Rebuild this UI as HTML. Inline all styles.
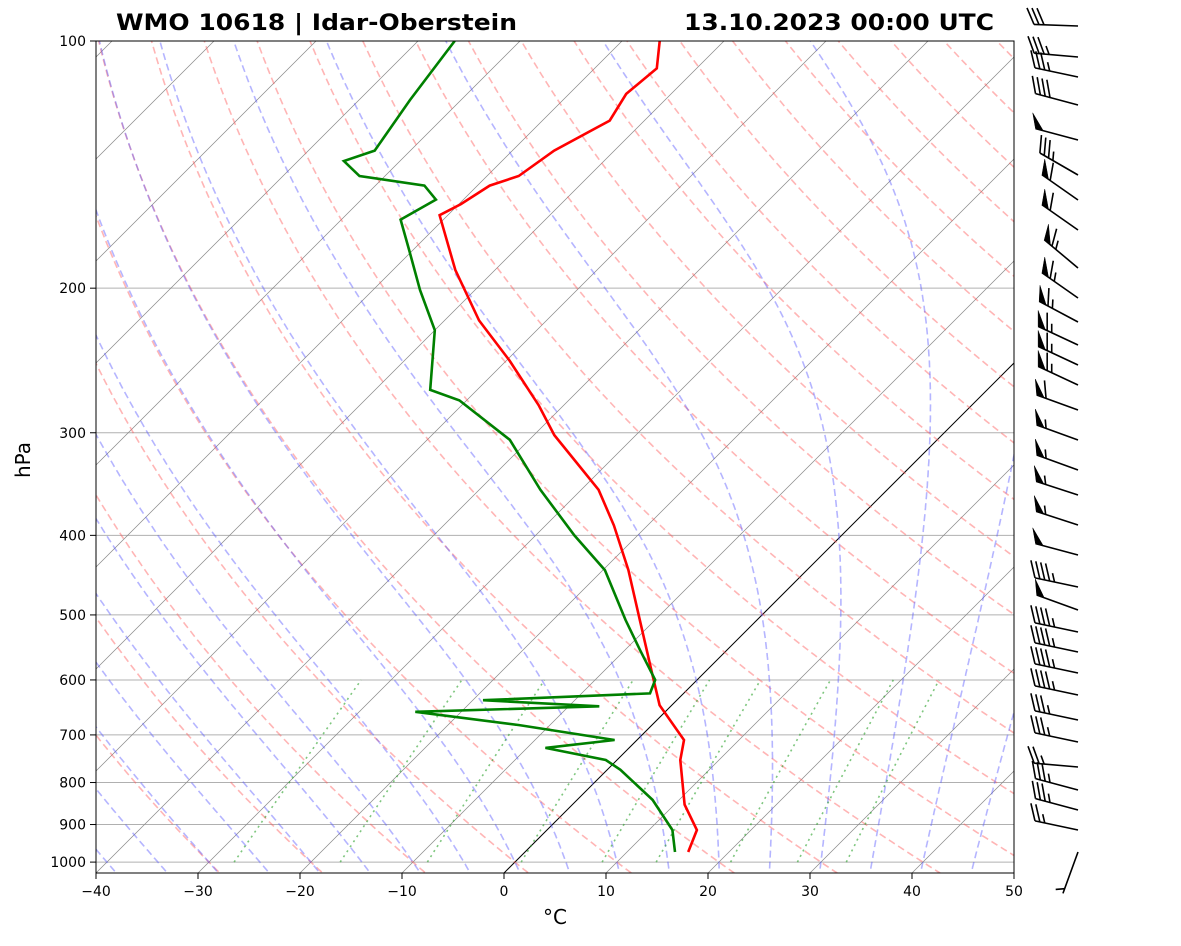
<!DOCTYPE html>
<html><head><meta charset="utf-8"><style>
body{margin:0;background:#fff;}
svg text{font-family:"DejaVu Sans","Liberation Sans",sans-serif;}
</style></head><body>
<svg id="c" width="1181" height="941" viewBox="0 0 1181 941" xmlns="http://www.w3.org/2000/svg">
<defs><clipPath id="clip"><rect x="96" y="41" width="918" height="832"/></clipPath></defs>
<rect x="0" y="0" width="1181" height="941" fill="#fff"/>
<g id="bg" clip-path="url(#clip)"></g>
<g id="prof" clip-path="url(#clip)"></g>
<rect x="96" y="41" width="918" height="832" fill="none" stroke="#000" stroke-width="1"/>
<g id="axes"></g>
<g id="barbs"></g>
<text x="116" y="30" font-size="22" font-weight="bold" textLength="401" lengthAdjust="spacingAndGlyphs">WMO 10618 | Idar-Oberstein</text>
<text x="684" y="30" font-size="22" font-weight="bold" textLength="310" lengthAdjust="spacingAndGlyphs">13.10.2023 00:00 UTC</text>
<text x="555" y="924" font-size="20" text-anchor="middle">°C</text>
<text x="30" y="460" font-size="20" text-anchor="middle" transform="rotate(-90 30 460)">hPa</text>
</svg>
<script>
// data
const tempPressure=[972,914,851,751,710,644,587,507,441,389,352,302,278,245,219,190,163,158,150,146,136,125,116,108,100];
const tempValues=[16.0,14.7,11.0,6.2,4.6,-1.2,-5.2,-11.5,-17.5,-23.3,-28.3,-38.0,-42.4,-49.7,-56.6,-63.9,-70.8,-69.8,-68.8,-66.9,-65.9,-63.4,-64.4,-63.9,-66.3];
const dewPressure=[972,914,840,772,751,726,710,681,656,646,635,623,600,552,507,441,400,352,306,274,266,225,201,180,165,156,150,146,140,136,118,100];
const dewValues=[14.7,12.3,7.4,1.3,-1.1,-8.2,-2.2,-13,-24.5,-7,-19,-3.3,-4.1,-8.5,-12.9,-19.8,-26.2,-34,-41.9,-50.7,-54.6,-60,-65.4,-70.3,-74.2,-72.7,-75.2,-82.5,-85.5,-83.5,-85,-86.4];
const pressureTicks=[100,200,300,400,500,600,700,800,900,1000];
const tempTicks=[-40,-30,-20,-10,0,10,20,30,40,50];
const barbY=[26,57,77,105,140,175,200,230,268,298,322,345,365,385,410,440,470,495,525,555,587,610,632,652,673,695,720,742,767,790,810,830,852];
const barbSpeed=[30,35,35,40,50,35,60,60,65,65,65,65,65,65,60,55,55,55,55,50,45,50,45,45,45,45,35,35,25,35,35,25,5];
const barbDir=[178,175,168,165,165,150,145,145,140,145,152,155,155,155,160,160,160,162,162,165,168,160,168,168,168,168,168,168,175,165,165,168,250];

const NS="http://www.w3.org/2000/svg";
const Y=p=>41+356.6*Math.log(p/100);
const X=(t,p)=>96+(t+40)*10.2+(873-Y(p));
function mk(tag,attrs,parent){const e=document.createElementNS(NS,tag);for(const k in attrs)e.setAttribute(k,attrs[k]);parent.appendChild(e);return e;}
const bg=document.getElementById('bg'),prof=document.getElementById('prof'),axes=document.getElementById('axes'),barbs=document.getElementById('barbs');
function poly(pts,attrs,parent,name){const e=mk('polyline',Object.assign({points:pts.map(q=>q[0].toFixed(1)+','+q[1].toFixed(1)).join(' '),fill:'none'},attrs),parent);

return e;}
const plevs=[];for(let p=1050;p>=100;p-=5)plevs.push(p);
pressureTicks.forEach(p=>{const l=mk('line',{x1:96,x2:1014,y1:Y(p),y2:Y(p),stroke:'#b0b0b0','stroke-width':1},bg);

});
for(let t=-140;t<=50;t+=10){const l=mk('line',{x1:X(t,1050),y1:Y(1050),x2:X(t,100),y2:Y(100),stroke:t===0?'#000':'#888','stroke-width':t===0?1:0.7},bg);

}
for(let th=-30;th<=200;th+=10){const pts=plevs.map(p=>[X((th+273.15)*Math.pow(p/1000,0.2857)-273.15,p),Y(p)]);
poly(pts,{stroke:'rgba(255,90,90,0.45)','stroke-width':1.6,'stroke-dasharray':'7,4'},bg,'dry-adiabat');}
function es(t){return 6.112*Math.exp(17.67*t/(t+243.5));}
function moist(t0){let T=t0+273.15,p=1000;const res=[[p,T]];
 const step=(p,T)=>{const e=es(T-273.15),rs=0.622*e/(p-e);return (287*T+2.5e6*rs)/(1004+2.5e6*2.5e6*rs*0.622/(287*T*T))/p;};
 for(p=1000;p>100;p-=2){T-=2*step(p,T);res.push([p-2,T]);}
 T=t0+273.15;const low=[];for(p=1000;p<1050;p+=2){T+=2*step(p,T);low.push([p+2,T]);}
 return low.reverse().concat(res).map(a=>[X(a[1]-273.15,a[0]),Y(a[0])]);}
for(let t=-40;t<=45;t+=5)poly(moist(t),{stroke:'rgba(90,90,255,0.45)','stroke-width':1.6,'stroke-dasharray':'7,4'},bg,'moist-adiabat');
[0.4,1,2,4,7,10,16,24,32].forEach(w=>{const pts=[];for(let p=1000;p>=600;p-=10){const e=w*p/(622+w),l=Math.log(e/6.112);const td=243.5*l/(17.67-l);pts.push([X(td,p),Y(p)]);}
poly(pts,{stroke:'rgba(40,160,40,0.6)','stroke-width':1.6,'stroke-dasharray':'2,4'},bg,'mixing-ratio-line');});
poly(tempPressure.map((p,i)=>[X(tempValues[i],p),Y(p)]),{stroke:'#f00','stroke-width':2.6},prof,'temperature-line');
poly(dewPressure.map((p,i)=>[X(dewValues[i],p),Y(p)]),{stroke:'#008000','stroke-width':2.6},prof,'dewpoint-line');
pressureTicks.forEach(p=>{mk('line',{x1:90,x2:96,y1:Y(p),y2:Y(p),stroke:'#000'},axes);
const t=mk('text',{x:86,y:Y(p)+5,'font-size':14,'text-anchor':'end'},axes);t.textContent=p;

});
tempTicks.forEach(v=>{const x=96+(v+40)*10.2;mk('line',{x1:x,x2:x,y1:873,y2:879,stroke:'#000'},axes);
const t=mk('text',{x:x,y:896,'font-size':14,'text-anchor':'middle'},axes);t.textContent=(v<0?'\u2212'+(-v):v);

});
barbY.forEach((y,i)=>{const g=mk('g',{stroke:'#000','stroke-width':1.6,fill:'#000'},barbs);


const a=barbDir[i]*Math.PI/180,L=44,bx=1078,by=y;
const ux=Math.cos(a),uy=-Math.sin(a);const fa=a-65*Math.PI/180,fx=Math.cos(fa),fy=-Math.sin(fa);
const ex=bx+ux*L,ey=by+uy*L;mk('line',{x1:bx,y1:by,x2:ex,y2:ey},g);
let s=Math.round(barbSpeed[i]/5)*5,pos=0;
while(s>=50){const x0=ex-ux*pos,y0=ey-uy*pos,x1=ex-ux*(pos+8),y1=ey-uy*(pos+8);
mk('polygon',{points:`${x0},${y0} ${x1},${y1} ${x0+fx*16},${y0+fy*16}`,'stroke-width':0.5},g);pos+=10;s-=50;}
while(s>=10){const x0=ex-ux*pos,y0=ey-uy*pos;mk('line',{x1:x0,y1:y0,x2:x0+fx*18,y2:y0+fy*18},g);pos+=5;s-=10;}
if(s>=5){if(pos===0)pos=5;const x0=ex-ux*pos,y0=ey-uy*pos;mk('line',{x1:x0,y1:y0,x2:x0+fx*9,y2:y0+fy*9},g);}
});
</script>
</body></html>
